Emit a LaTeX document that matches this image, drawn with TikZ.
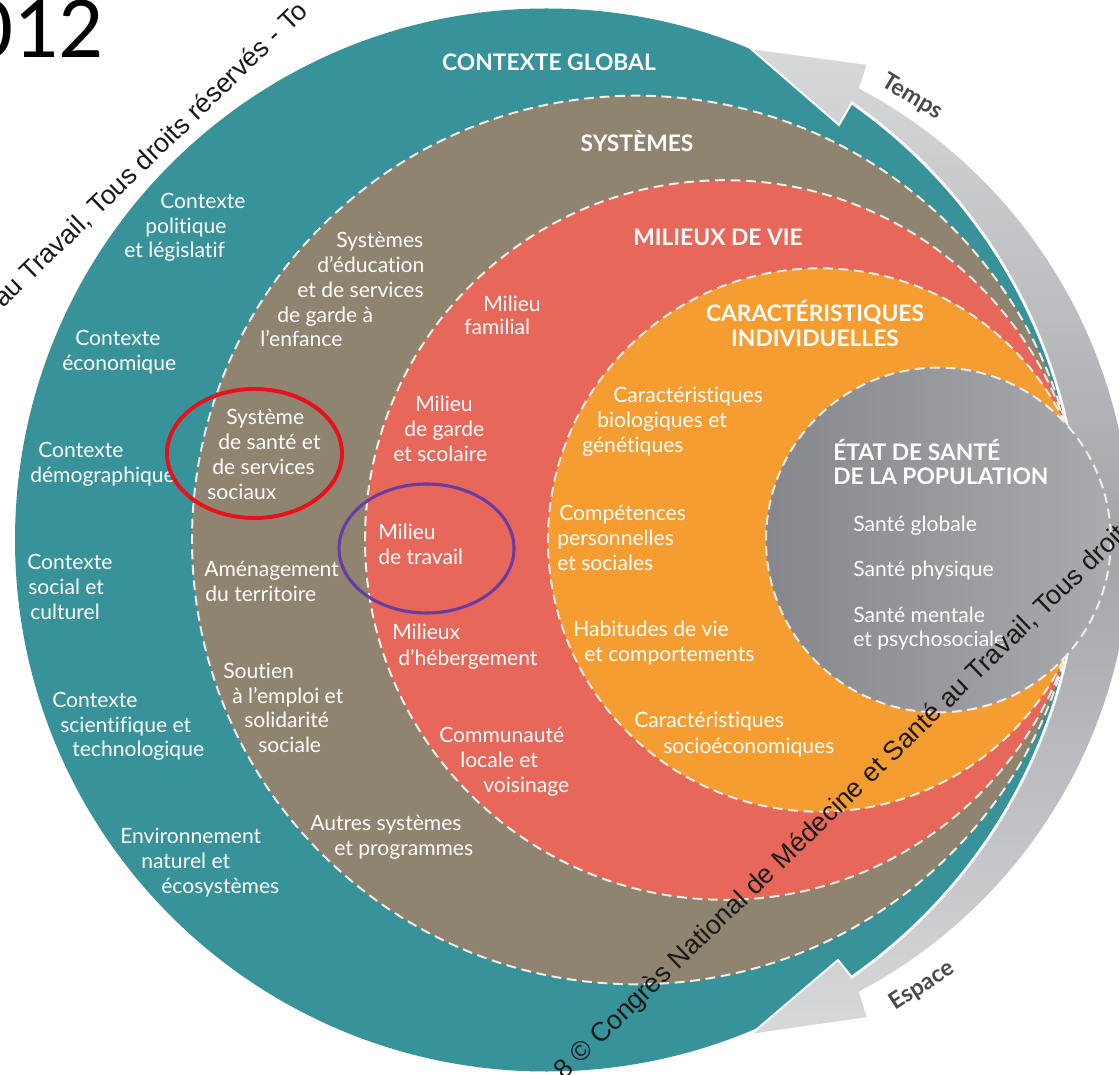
\documentclass[tikz,border=0pt]{standalone}
\usepackage{fontspec}
\setmainfont{Lato}[Ligatures=NoCommon]
\newfontfamily\wmfont{Liberation Sans}
\newfontfamily\numfont{Carlito}
\usetikzlibrary{calc}
\definecolor{cteal}{HTML}{389299}
\definecolor{cbrown}{HTML}{8F846F}
\definecolor{cred}{HTML}{E7685B}
\definecolor{corange}{HTML}{F69D32}
\definecolor{cgreyL}{HTML}{86878C}
\definecolor{cgreyR}{HTML}{AAABAF}
\definecolor{bandL}{HTML}{D8D9DB}
\definecolor{bandD}{HTML}{A3A4A8}
\definecolor{dashc}{HTML}{F2EEE6}
\definecolor{annred}{HTML}{E8101A}
\definecolor{annpurple}{HTML}{6A3CA2}
\definecolor{lblgrey}{HTML}{4A4A4C}
\newcommand\wmword[3]{\node[wm] (#1) at ($(#2.base east)+(-44:7.43)$) {#3};}
\begin{document}
\begin{tikzpicture}[x=0.025cm,y=-0.025cm,
  ring/.style={draw=dashc,line width=1.4pt,dash pattern=on 7pt off 4pt},
  txt/.style={text=white,font=\fontsize{15}{18}\selectfont,inner sep=0pt,anchor=base west},
  hd/.style={text=white,font=\fontsize{16.2}{19}\selectfont\bfseries,inner sep=0pt,anchor=base},
  hdl/.style={text=white,font=\fontsize{16.2}{19}\selectfont\bfseries,inner sep=0pt,anchor=base west},
  lbl/.style={text=lblgrey,font=\fontsize{16.5}{19}\selectfont\bfseries,inner sep=0pt},
  wm/.style={text=black!90,font=\wmfont\fontsize{19}{22}\selectfont,inner sep=0pt,anchor=base west,rotate=44},
  band/.style={top color=bandL,bottom color=bandL,middle color=bandD,draw=white,line width=1.4pt,line join=miter}
]
\useasboundingbox (0,0) rectangle (1119,1075);

% outer circle: contexte global
\fill[cteal] (546.5,540) circle[radius=531.5];

% time / space arrow band
\path[band] plot[domain=-55.07:55.07,samples=90] ({546.5+533.5*cos(\x)},{540+533.5*sin(\x)})
  -- (838,960) -- (750,1035) -- (868,1018)
  -- plot[domain=62.03:-62.03,samples=90] ({620+512*cos(\x)},{540+512*sin(\x)})
  -- (868,64) -- (750,48) -- (839,125) -- cycle;

% nested circles
\path[ring,fill=cbrown] (636.3,540) circle[radius=444.3];
\path[ring,fill=cred] (724.8,540) circle[radius=359.8];
\path[ring,fill=corange] (819.7,540) circle[radius=271.7];
\path[ring,left color=cgreyL,right color=cgreyR] (938.4,540) circle[radius=172.4];

% headings
\node[hd] (hctx) at (549,71) {CONTEXTE GLOBAL};
\node[hd] (hsys) at (637,152) {SYSTÈMES};
\node[hd] (hmil) at (718,246) {MILIEUX DE VIE};
\node[hd] (hcar1) at (815,322) {CARACTÉRISTIQUES};
\node[hd] (hcar2) at (815,347) {INDIVIDUELLES};
\node[hdl] (hetat1) at (833,461) {ÉTAT DE SANTÉ};
\node[hdl] (hetat2) at (833,485) {DE LA POPULATION};

% contexte global
\node[txt] (t1a) at (160,209) {Contexte};
\node[txt] (t1b) at (145,234) {politique};
\node[txt] (t1c) at (124,258) {et législatif};
\node[txt] (t2a) at (75,346) {Contexte};
\node[txt] (t2b) at (62,371) {économique};
\node[txt] (t3a) at (38,458) {Contexte};
\node[txt] (t3b) at (30,483) {démographique};
\node[txt] (t4a) at (27,570) {Contexte};
\node[txt] (t4b) at (28,595) {social et};
\node[txt] (t4c) at (30,620) {culturel};
\node[txt] (t5a) at (52,707) {Contexte};
\node[txt] (t5b) at (60,732) {scientifique et};
\node[txt] (t5c) at (72,756) {technologique};
\node[txt] (t6a) at (120,843) {Environnement};
\node[txt] (t6b) at (141,868) {naturel et};
\node[txt] (t6c) at (161,893) {écosystèmes};

% systemes
\node[txt] (s1a) at (336,248) {Systèmes};
\node[txt] (s1b) at (317,273) {d’éducation};
\node[txt] (s1c) at (297,298) {et de services};
\node[txt] (s1d) at (277,323) {de garde à};
\node[txt] (s1e) at (260,347) {l’enfance};
\node[txt] (s2a) at (226,425) {Système};
\node[txt] (s2b) at (218,450) {de santé et};
\node[txt] (s2c) at (212,475) {de services};
\node[txt] (s2d) at (207,500) {sociaux};
\node[txt] (s3a) at (204,577) {Aménagement};
\node[txt] (s3b) at (205,602) {du territoire};
\node[txt] (s4a) at (223,678) {Soutien};
\node[txt] (s4b) at (232,703) {à l’emploi et};
\node[txt] (s4c) at (244,728) {solidarité};
\node[txt] (s4d) at (258,752) {sociale};
\node[txt] (s5a) at (310,830) {Autres systèmes};
\node[txt] (s5b) at (334,855) {et programmes};

% milieux de vie
\node[txt] (m1a) at (483,312) {Milieu};
\node[txt] (m1b) at (464,335) {familial};
\node[txt] (m2a) at (415,412) {Milieu};
\node[txt] (m2b) at (404,437) {de garde};
\node[txt] (m2c) at (393,462) {et scolaire};
\node[txt] (m3a) at (378,540) {Milieu};
\node[txt] (m3b) at (378,565) {de travail};
\node[txt] (m4a) at (392,640) {Milieux};
\node[txt] (m4b) at (398,665) {d’hébergement};
\node[txt] (m5a) at (439,742) {Communauté};
\node[txt] (m5b) at (460,767) {locale et};
\node[txt] (m5c) at (483,792) {voisinage};

% caracteristiques individuelles
\node[txt] (c1a) at (613,403) {Caractéristiques};
\node[txt] (c1b) at (597,428) {biologiques et};
\node[txt] (c1c) at (582,453) {génétiques};
\node[txt] (c2a) at (559,521) {Compétences};
\node[txt] (c2b) at (557,546) {personnelles};
\node[txt] (c2c) at (557,571) {et sociales};
\node[txt] (c3a) at (573,637) {Habitudes de vie};
\node[txt] (c3b) at (584,662) {et comportements};
\node[txt] (c4a) at (634,728) {Caractéristiques};
\node[txt] (c4b) at (663,753) {socioéconomiques};

% etat de sante
\node[txt] (e1) at (853,532) {Santé globale};
\node[txt] (e2) at (853,577) {Santé physique};
\node[txt] (e3a) at (853,623) {Santé mentale};
\node[txt] (e3b) at (853,647) {et psychosociale};

% arrow labels
\node[lbl,rotate=-31] (temps) at (912,97) {Temps};
\node[lbl,rotate=33] (espace) at (922,986) {Espace};

% annotations
\draw[annred,line width=2.8pt] (254.5,453.5) ellipse[x radius=87.5,y radius=64.5];
\draw[annpurple,line width=2.2pt] (426.5,548.5) ellipse[x radius=87.5,y radius=64.5];

% overlaid texts, word by word along the diagonal
\node[wm] (wa1) at (3,309) {au};
\wmword{wa2}{wa1}{Travail,}
\wmword{wa3}{wa2}{Tous}
\wmword{wa4}{wa3}{droits}
\wmword{wa5}{wa4}{réservés}
\wmword{wa6}{wa5}{-}
\wmword{wa7}{wa6}{To}

\node[wm] (wb1) at (564,1081) {8};
\wmword{wb2}{wb1}{©}
\wmword{wb3}{wb2}{Congrès}
\wmword{wb4}{wb3}{National}
\wmword{wb5}{wb4}{de}
\wmword{wb6}{wb5}{Médecine}
\wmword{wb7}{wb6}{et}
\wmword{wb8}{wb7}{Santé}
\wmword{wb9}{wb8}{au}
\wmword{wb10}{wb9}{Travail,}
\wmword{wb11}{wb10}{Tous}
\wmword{wb12}{wb11}{droits}

\node[font=\numfont\fontsize{63}{63}\selectfont,anchor=base west,inner sep=0pt] (yr) at (-32,58) {012};
\end{tikzpicture}
\end{document}
